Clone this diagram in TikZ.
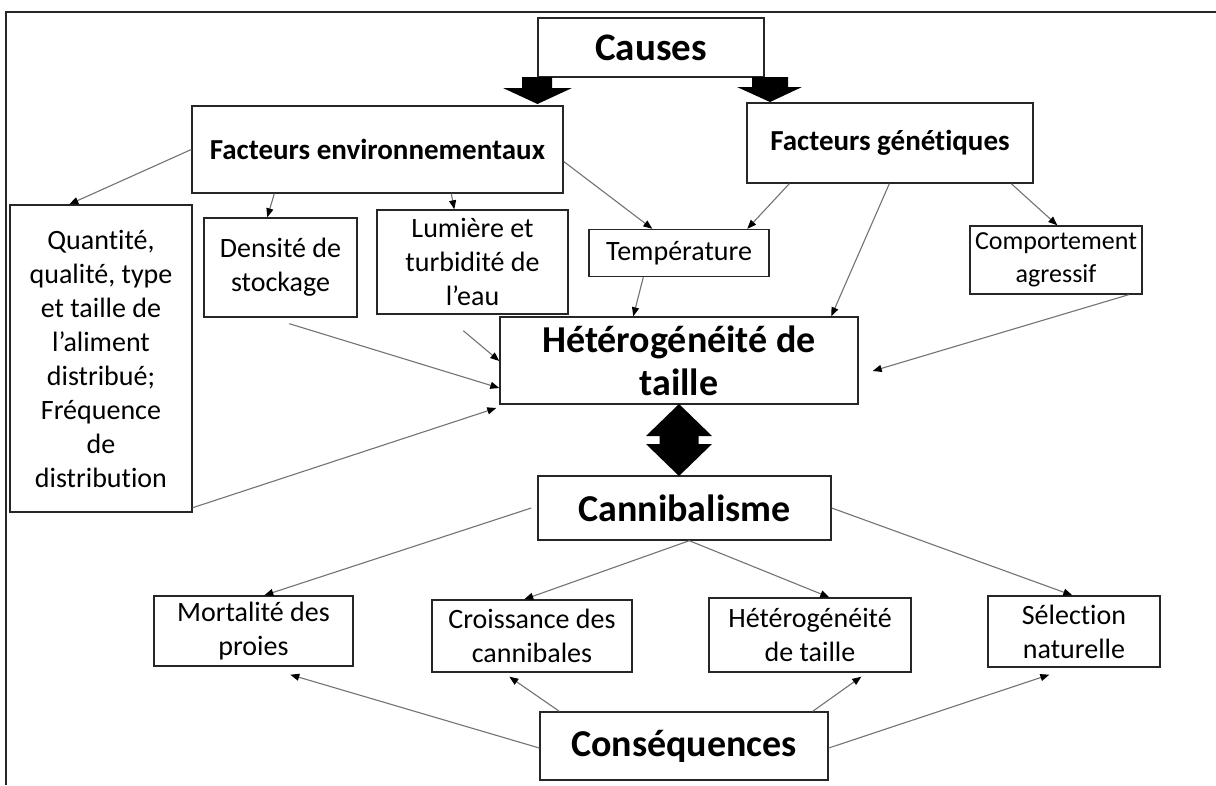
\documentclass[tikz,border=0pt]{standalone}
\usepackage{fontspec}
\setmainfont{Carlito}[Ligatures=NoCommon]
\usetikzlibrary{arrows.meta}
\begin{document}
\begin{tikzpicture}[x=1pt,y=-1pt,
  box/.style={draw=black!85, line width=1.4pt, fill=white, align=center, inner sep=0pt, font=\fontsize{28}{34}\selectfont},
  boldbox/.style={box, font=\fontsize{29}{34}\selectfont\bfseries},
  bigbox/.style={box, font=\fontsize{38}{43}\selectfont\bfseries},
  conn/.style={draw=black!55, line width=1.1pt, -{Triangle[length=9pt,width=7pt,color=black]}},
  blockarrow/.style={fill=black}]
\useasboundingbox (0,0) rectangle (1216,785);
\fill[white] (0,0) rectangle (1216,785);
% outer frame
\draw[line width=2pt, black!85] (1216,12) -- (6,12) -- (6,785);

% nodes
\node[bigbox, minimum width=226pt, minimum height=59pt, font=\fontsize{39}{44}\selectfont\bfseries] (causes) at (651,47.5) {Causes};
\node[boldbox, minimum width=371pt, minimum height=87pt] (fenv) at (377.5,149.5) {Facteurs environnementaux};
\node[boldbox, minimum width=286pt, minimum height=80pt] (fgen) at (890,143) {Facteurs génétiques};
\node[box, minimum width=182pt, minimum height=307pt] (quant) at (101,358.5) {Quantité,\\qualité, type\\et taille de\\l’aliment\\distribué;\\Fréquence\\de\\distribution};
\node[box, minimum width=153pt, minimum height=99pt] (dens) at (280.5,267.5) {Densité de\\stockage};
\node[box, minimum width=191pt, minimum height=104pt] (lum) at (472.5,262) {Lumière et\\turbidité de\\l’eau};
\node[box, minimum width=180pt, minimum height=47pt] (temp) at (679,253) {Température};
\node[box, minimum width=172pt, minimum height=68pt, font=\fontsize{26}{33}\selectfont] (comp) at (1056,260) {Comportement\\agressif};
\node[bigbox, minimum width=358pt, minimum height=87pt] (het) at (679,360.5) {Hétérogénéité de\\taille};
\node[bigbox, minimum width=293pt, minimum height=64pt] (cann) at (684.5,508) {Cannibalisme};
\node[box, minimum width=199pt, minimum height=70pt] (mort) at (253.5,631) {Mortalité des\\proies};
\node[box, minimum width=200pt, minimum height=72pt] (crois) at (532,636) {Croissance des\\cannibales};
\node[box, minimum width=202pt, minimum height=74pt] (het2) at (810,635) {Hétérogénéité\\de taille};
\node[box, minimum width=172pt, minimum height=71pt] (sel) at (1074,631.5) {Sélection\\naturelle};
\node[bigbox, minimum width=288pt, minimum height=68pt] (cons) at (684,746) {Conséquences};

% block arrows from Causes
\fill[blockarrow] (522,77) -- (552,77) -- (552,88) -- (572,88) -- (537.5,104) -- (503,88) -- (522,88) -- cycle;
\fill[blockarrow] (752,77) -- (788,77) -- (788,87) -- (802,87) -- (770,102) -- (737,87) -- (752,87) -- cycle;
% double arrow between het and cann
\fill[blockarrow] (679,404) -- (712,436) -- (698.5,436) -- (698.5,444) -- (712,444) -- (679,476) -- (646,444) -- (659.5,444) -- (659.5,436) -- (646,436) -- cycle;

% connector end points
\coordinate (hetR) at ([xshift=14pt,yshift=-10.5pt]het.east);
\coordinate (lumS) at ([xshift=87pt,yshift=-16pt]lum.south west);
\coordinate (mortB) at ([xshift=137pt,yshift=-8pt]mort.south west);
\coordinate (croisB) at ([xshift=78pt,yshift=-4pt]crois.south west);
\coordinate (het2B) at ([xshift=153pt,yshift=-4pt]het2.south west);
\coordinate (selB) at ([xshift=62pt,yshift=-7pt]sel.south west);

% connectors
\draw[conn] (fenv.west) -- ([xshift=60pt]quant.north west);
\draw[conn] ([xshift=83pt]fenv.south west) -- ([xshift=64pt]dens.north west);
\draw[conn] ([xshift=260pt]fenv.south west) -- ([xshift=78pt]lum.north west);
\draw[conn] ([yshift=-12pt]fenv.east) -- ([xshift=64pt]temp.north west);
\draw[conn] ([xshift=43pt]fgen.south west) -- ([xshift=159pt]temp.north west);
\draw[conn] ([xshift=143pt]fgen.south west) -- ([xshift=332pt]het.north west);
\draw[conn] ([xshift=265pt]fgen.south west) -- ([xshift=88pt]comp.north west);
\draw[conn] ([xshift=-14pt]comp.south east) -- (hetR);
\draw[conn] ([xshift=55pt]temp.south west) -- ([xshift=134pt]het.north west);
\draw[conn] (lumS) -- ([yshift=-0.5pt]het.west);
\draw[conn] ([xshift=86pt,yshift=-6pt]dens.south west) -- ([yshift=-27.5pt]het.west);
\draw[conn] ([yshift=5pt]quant.south east) -- ([xshift=-3pt,yshift=-47.5pt]het.west);

\draw[conn] ([xshift=-6pt]cann.west) -- ([xshift=111pt]mort.north west);
\draw[conn] ([xshift=152pt]cann.south west) -- ([xshift=93pt]crois.north west);
\draw[conn] ([xshift=152pt]cann.south west) -- ([xshift=121pt]het2.north west);
\draw[conn] (cann.east) -- ([xshift=85pt]sel.north west);

\draw[conn] ([yshift=-2pt]cons.west) -- (mortB);
\draw[conn] ([xshift=20pt]cons.north west) -- (croisB);
\draw[conn] ([xshift=-16pt]cons.north east) -- (het2B);
\draw[conn] ([yshift=-2pt]cons.east) -- (selB);
\end{tikzpicture}
\end{document}
